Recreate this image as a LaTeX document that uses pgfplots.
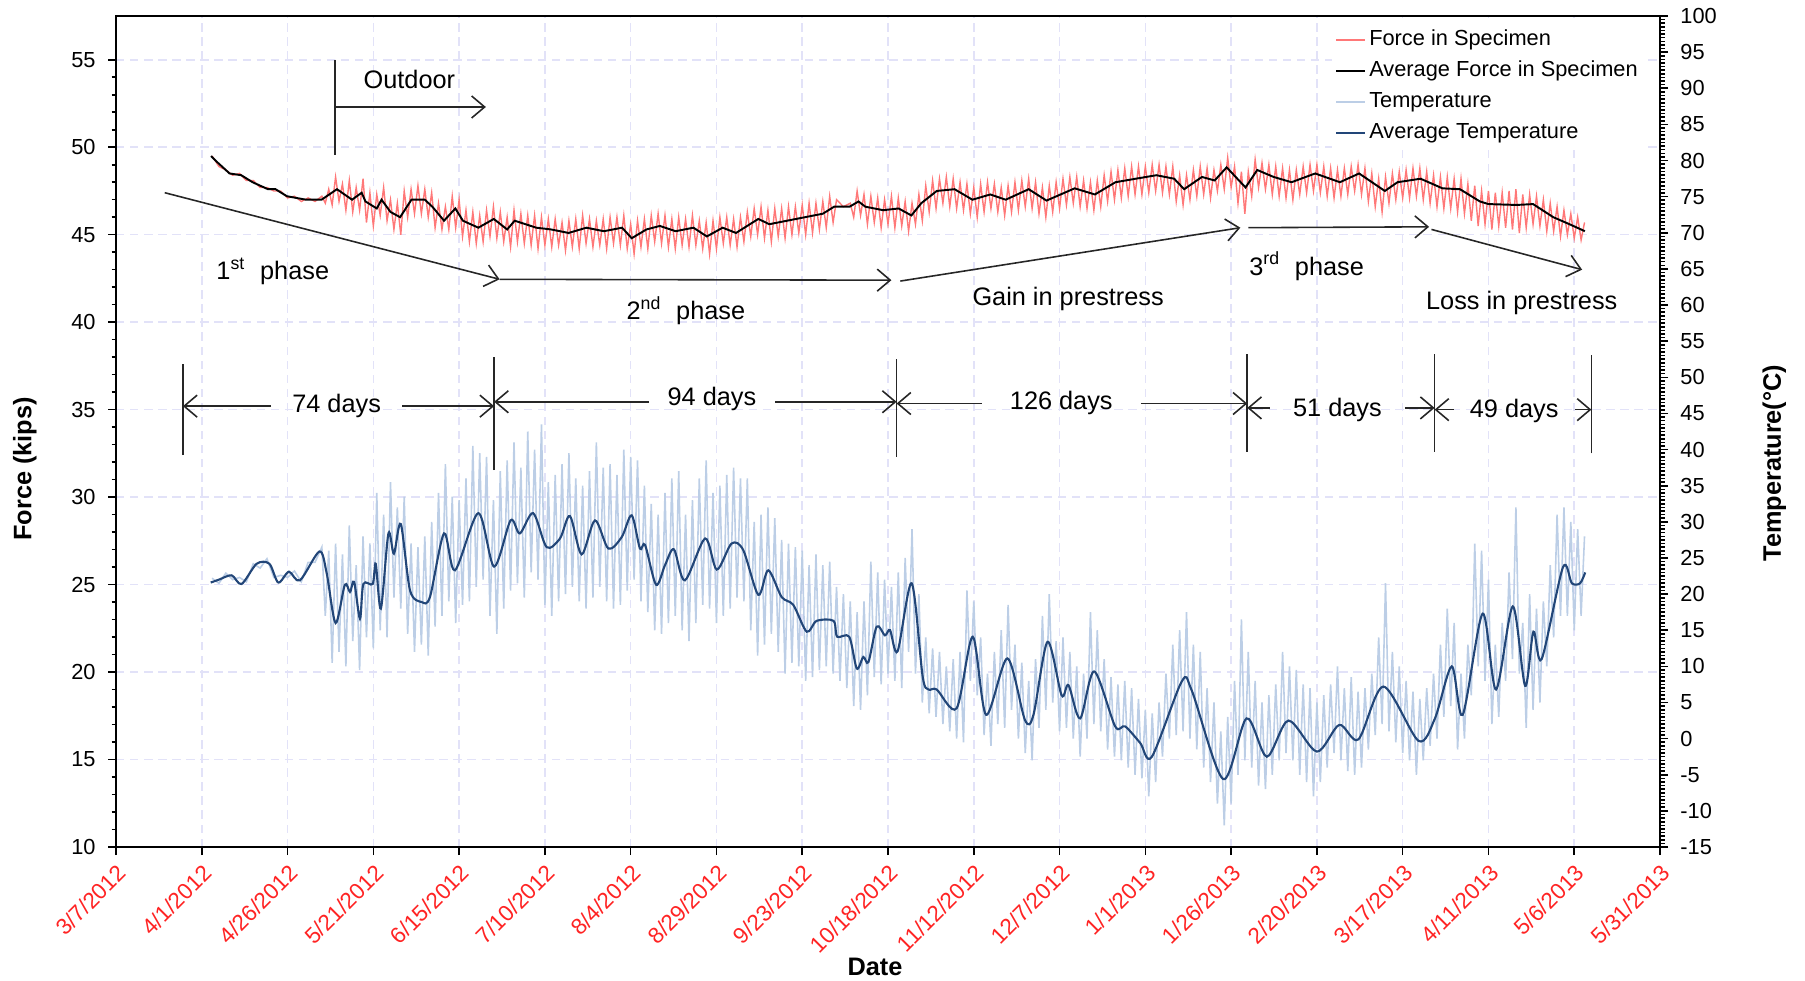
\documentclass[border=0pt]{standalone}
\usepackage{fontspec}
\setmainfont{Liberation Sans}
\usepackage{pgfplots}
\usepackage{pgfplotstable}
\pgfplotsset{compat=1.18}
\usetikzlibrary{arrows.meta}

\definecolor{forcered}{RGB}{255,120,120}
\definecolor{templight}{RGB}{188,206,230}
\definecolor{tempdark}{RGB}{34,70,120}
\definecolor{gridc}{RGB}{226,226,248}
\definecolor{ticklab}{RGB}{255,35,35}

\pgfplotstableread{
d F
28 49.5
30 48.9
32 48.7
34 48.4
36 48.5
38 48.1
40 48.1
42 47.7
44 47.7
46 47.5
48 47.5
50 47.1
52 47.2
54 46.9
56 47.1
58 46.9
60 47.2
61 46.8
62 47.6
63 46.7
64 48.3
65 46.9
66 47.9
67 46.4
68 48.1
69 46.3
70 47.7
71 46.4
72 48.2
73 45.7
74 47.4
75 45.5
76 47.3
77 46.1
78 47.7
79 45.8
80 47.0
81 45.3
82 46.8
83 45.0
84 47.5
85 46.0
86 47.6
87 46.2
88 47.8
89 46.2
90 47.6
91 46.0
92 47.4
93 45.4
94 46.8
95 45.3
96 46.6
97 45.3
98 47.2
99 45.4
100 47.0
101 44.9
102 46.4
103 44.6
104 46.3
105 44.5
106 46.1
107 44.6
108 46.4
109 44.9
110 46.6
111 44.8
112 46.3
113 44.6
114 46.0
115 44.3
116 46.4
117 44.6
118 46.2
119 44.5
120 46.1
121 44.4
122 46.1
123 44.2
124 46.0
125 44.4
126 45.9
127 44.3
128 45.9
129 44.4
130 45.7
131 44.1
132 45.8
133 44.3
134 45.9
135 44.2
136 46.1
137 44.5
138 45.9
139 44.3
140 45.8
141 44.4
142 45.9
143 44.2
144 46.0
145 44.5
146 46.0
147 44.4
148 46.1
149 44.2
150 45.6
151 43.9
152 45.8
153 44.3
154 45.9
155 44.2
156 46.1
157 44.6
158 46.2
159 44.5
160 46.1
161 44.3
162 45.9
163 44.2
164 46.0
165 44.4
166 45.9
167 44.3
168 46.1
169 44.4
170 45.8
171 44.2
172 45.7
173 43.9
174 45.8
175 44.2
176 46.0
177 44.5
178 46.0
179 44.4
180 45.9
181 44.3
182 46.0
183 44.6
184 46.3
185 44.9
186 46.5
187 45.0
188 46.6
189 44.8
190 46.4
191 44.6
192 46.5
193 44.9
194 46.5
195 44.8
196 46.6
197 45.0
198 46.6
199 45.1
200 46.7
201 45.0
202 46.8
203 45.1
204 46.8
205 45.3
206 46.9
207 45.4
208 47.2
209 45.7
210 47.0
212 46.6
214 46.8
215 46.0
216 47.5
217 46.1
218 47.3
219 45.6
220 47.2
221 45.7
222 47.1
223 45.4
224 47.0
225 45.6
226 47.2
227 45.4
228 47.1
229 45.5
230 46.9
231 45.2
232 46.8
233 45.6
234 47.3
235 45.8
236 47.8
237 46.3
238 48.1
239 46.5
240 48.2
241 46.8
242 48.3
243 46.6
244 48.2
245 46.5
246 48.0
247 46.4
248 47.9
249 46.2
250 47.7
251 46.0
252 47.9
253 46.3
254 48.0
255 46.5
256 47.9
257 46.3
258 47.7
259 46.1
260 47.8
261 46.3
262 48.0
263 46.4
264 48.1
265 46.6
266 48.2
267 46.5
268 48.0
269 46.2
270 47.7
271 46.0
272 47.8
273 46.3
274 48.0
275 46.5
276 48.2
277 46.7
278 48.3
279 46.8
280 48.3
281 46.6
282 48.1
283 46.5
284 48.0
285 46.4
286 48.1
287 46.6
288 48.4
289 46.9
290 48.6
291 47.0
292 48.7
293 47.1
294 48.8
295 47.2
296 48.9
297 47.3
298 48.9
299 47.3
300 48.9
301 47.4
302 49.0
303 47.5
304 49.0
305 47.4
306 48.9
307 47.3
308 48.9
309 46.9
310 48.4
311 46.7
312 48.4
313 47.0
314 48.7
315 47.2
316 48.9
317 47.3
318 48.8
319 47.1
320 48.7
321 47.5
322 49.0
323 47.6
324 49.4
325 47.7
326 48.9
327 46.8
328 48.6
329 46.2
330 48.6
331 47.2
332 49.3
333 47.7
334 49.1
335 47.6
336 49.0
337 47.3
338 48.9
339 47.2
340 48.8
341 47.1
342 48.7
343 47.0
344 48.7
345 47.3
346 48.9
347 47.4
348 49.0
349 47.5
350 49.0
351 47.4
352 48.9
353 47.2
354 48.8
355 47.1
356 48.7
357 47.2
358 48.8
359 47.3
360 48.9
361 47.5
362 49.0
363 47.3
364 48.8
365 46.9
366 48.5
367 46.6
368 48.2
369 46.3
370 48.3
371 46.8
372 48.5
373 47.0
374 48.6
375 47.1
376 48.7
377 47.1
378 48.8
379 47.2
380 48.8
381 47.0
382 48.6
383 46.8
384 48.4
385 46.6
386 48.3
387 46.5
388 48.3
389 46.5
390 48.2
391 46.3
392 48.2
393 46.2
394 47.9
395 45.8
396 47.8
397 45.5
398 47.5
399 45.6
400 47.5
401 45.3
402 47.4
403 45.5
404 47.4
405 45.4
406 47.5
407 45.3
408 47.6
409 45.1
410 47.3
411 45.4
412 47.3
413 45.6
414 47.2
415 45.5
416 47.0
417 45.2
418 46.8
419 45.2
420 46.6
421 44.9
422 46.4
423 45.0
424 46.2
425 44.8
426 46.0
427 44.7
428 45.7
}\ForceNoisy

\pgfplotstableread{
d F
27.7 49.5
29.2 49.2
33.1 48.5
36.5 48.4
39.8 48.0
44.3 47.6
46.5 47.6
49.8 47.2
55.4 47.0
59.9 47.0
64.4 47.6
68.8 47.0
71.6 47.4
72.7 46.9
76 46.5
77.4 47.0
80 46.3
82.8 46.0
86.1 47.0
90 47.0
92.2 46.6
95.6 45.8
98.9 46.5
101.1 45.8
105.6 45.4
110.1 45.9
114 45.3
116.2 45.8
122.5 45.4
126.8 45.3
131.9 45.1
137.1 45.4
142.2 45.2
147.5 45.4
150.3 44.8
154.6 45.3
158.5 45.5
163.1 45.2
168.3 45.4
172.2 44.9
176.8 45.4
180.7 45.1
187.2 45.9
190.4 45.6
198.2 45.9
206 46.2
209.3 46.6
213.8 46.6
216.4 46.9
218.4 46.6
223.6 46.4
228.1 46.5
231.8 46.1
234.7 46.8
239.2 47.5
244.4 47.6
249.6 47.0
254.8 47.3
259.3 47.0
266 47.6
271.2 46.95
279.4 47.65
285.3 47.3
291.3 48.0
297.2 48.2
303.2 48.4
308.4 48.2
311.3 47.6
316.5 48.3
320.2 48.1
323.7 48.85
329.2 47.7
332.6 48.7
337.4 48.3
342.6 48.0
349.5 48.5
356.7 48.0
362.3 48.5
369.8 47.5
373.5 48.0
380.2 48.2
386.6 47.65
391.7 47.6
397.5 46.9
400 46.75
408.2 46.7
413 46.75
418.9 46.0
423.6 45.6
428.1 45.2
}\ForceAvg

\pgfplotstableread{
d T
28 22.2
30 21.5
32 22.9
34 22.0
36 22.3
38 21.7
40 24.2
42 23.6
44 24.9
46 22.3
48 22.6
50 22.3
52 23.2
54 21.7
56 24.4
58 24.4
60 26.5
61 17.0
62 26.0
63 10.5
64 27.0
65 12.0
66 25.5
67 10.0
68 29.5
69 13.5
70 24.0
71 9.5
72 28.0
73 14.0
74 27.0
75 12.5
76 34.0
77 15.0
78 31.0
79 14.0
80 35.5
81 19.5
82 32.0
83 18.0
84 33.5
85 14.5
86 27.0
87 12.0
88 26.5
89 13.0
90 28.0
91 11.5
92 30.0
93 15.5
94 34.0
95 17.0
96 38.0
97 19.0
98 33.5
99 16.0
100 33.0
101 18.5
102 36.0
103 19.0
104 40.5
105 21.0
106 39.5
107 22.0
108 39.0
109 17.0
110 33.0
111 14.5
112 37.0
113 18.0
114 38.5
115 20.5
116 41.0
117 21.5
118 37.5
119 19.5
120 42.5
121 23.0
122 40.0
123 22.0
124 43.5
125 18.5
126 35.5
127 17.0
128 36.5
129 19.0
130 38.0
131 20.0
132 39.5
133 21.0
134 36.0
135 19.0
136 35.0
137 18.0
138 37.0
139 19.5
140 41.0
141 21.0
142 37.5
143 19.0
144 38.0
145 18.0
146 36.5
147 18.5
148 40.0
149 20.5
150 39.0
151 22.0
152 38.5
153 19.0
154 35.0
155 17.5
156 32.5
157 15.0
158 31.0
159 14.5
160 34.0
161 16.0
162 36.0
163 17.0
164 37.0
165 15.0
166 31.0
167 13.5
168 33.0
169 16.0
170 36.0
171 18.5
172 38.5
173 18.0
174 34.0
175 16.0
176 35.0
177 17.0
178 36.5
179 18.0
180 37.5
181 19.5
182 36.0
183 19.0
184 36.0
185 15.0
186 30.0
187 11.5
188 31.0
189 13.0
190 32.0
191 14.5
192 30.5
193 12.0
194 27.5
195 9.0
196 27.0
197 10.5
198 26.5
199 10.0
200 26.0
201 8.0
202 24.0
203 8.5
204 25.5
205 9.5
206 24.0
207 10.0
208 24.5
209 9.0
210 21.0
211 8.0
212 20.0
213 7.0
214 19.0
215 4.5
216 17.5
217 4.0
218 19.0
219 6.0
220 24.5
221 8.5
222 23.0
223 7.5
224 22.0
225 9.0
226 21.0
227 8.0
228 23.0
229 7.0
230 25.0
231 12.0
232 29.0
233 9.0
234 20.0
235 5.0
236 14.0
237 3.5
238 12.5
239 3.0
240 12.0
241 2.0
242 10.0
243 1.0
244 11.0
245 0.0
246 12.0
247 -0.5
248 20.5
249 8.0
250 19.0
251 6.0
252 14.0
253 0.5
254 9.0
255 -1.0
256 12.0
257 2.0
258 15.0
259 1.5
260 18.5
261 4.0
262 13.0
263 0.0
264 10.5
265 -2.0
266 8.0
267 -3.0
268 11.0
269 1.5
270 17.0
271 4.0
272 20.0
273 5.0
274 13.5
275 1.0
276 14.0
277 1.5
278 12.0
279 0.0
280 10.0
281 -2.5
282 9.0
283 0.0
284 17.5
285 2.0
286 15.0
287 1.0
288 11.0
289 -1.5
290 8.5
291 -2.5
292 7.5
293 -3.0
294 8.0
295 -4.0
296 7.0
297 -5.0
298 5.5
299 -5.5
300 4.0
301 -8.0
302 3.5
303 -6.0
304 5.0
305 -2.5
306 9.0
307 0.0
308 13.0
309 0.5
310 15.0
311 1.0
312 17.5
313 0.0
314 13.0
315 -1.5
316 12.0
317 -4.0
318 7.0
319 -6.0
320 5.0
321 -9.0
322 1.0
323 -12.0
324 3.0
325 -9.0
326 8.0
327 -5.0
328 16.5
329 -3.0
330 12.0
331 -4.0
332 8.0
333 -6.5
334 5.0
335 -7.0
336 6.0
337 -5.0
338 7.5
339 -3.0
340 12.0
341 -2.0
342 10.0
343 -3.0
344 9.5
345 -5.0
346 7.5
347 -6.0
348 7.0
349 -8.0
350 5.0
351 -6.0
352 6.0
353 -4.0
354 7.5
355 -2.0
356 10.0
357 -3.0
358 7.0
359 -4.5
360 8.5
361 -5.0
362 6.5
363 -4.0
364 7.0
365 -1.5
366 9.0
367 0.5
368 14.0
369 2.0
370 21.5
371 1.0
372 12.0
373 -0.5
374 10.0
375 -2.0
376 8.0
377 -3.0
378 6.5
379 -5.0
380 5.5
381 -3.0
382 7.0
383 -1.0
384 9.0
385 0.0
386 13.0
387 3.0
388 18.0
389 4.5
390 16.0
391 -1.5
392 9.0
393 0.0
394 13.0
395 6.0
396 27.0
397 10.0
398 26.0
399 8.0
400 22.0
401 2.0
402 13.0
403 3.0
404 16.0
405 8.0
406 23.0
407 11.0
408 32.0
409 9.0
410 16.0
411 1.5
412 20.0
413 4.0
414 18.0
415 5.0
416 19.0
417 10.0
418 24.0
419 14.0
420 31.0
421 17.0
422 32.0
423 17.0
424 30.0
425 15.0
426 29.0
427 17.0
428 28.0
}\TempNoisy

\pgfplotstableread{
d T
27.6 21.6
30 22.0
33.7 22.6
36.6 21.4
41 24.2
44.7 24.2
47.3 21.6
50.4 23.1
53.6 21.9
59.3 25.9
61.4 22.9
64 16.0
66.7 21.3
68.2 20.3
69.4 21.7
71.1 16.6
72.1 21.4
74.8 21.4
75.7 24.2
77.2 18.0
79.4 28.4
81 25.6
83 29.7
85.7 20.5
89.1 18.9
91.5 19.6
95.6 28.4
98.8 23.3
105.6 31.2
110.2 23.8
115 30.2
117.7 28.4
121.6 31.2
125.5 26.5
129.4 27.7
132.3 30.8
135.7 25.5
139.6 30.2
143.5 26.3
147.4 27.9
150.3 30.9
152.7 26.3
154.2 26.8
157.4 21.3
160 24.0
162.6 26.2
165.8 21.9
171.7 27.7
175.1 23.4
179.4 27.0
182.8 26.1
187.2 19.9
190.1 23.3
194 19.6
197.4 18.5
201.3 14.8
204.2 16.3
209.1 16.3
210.2 14.1
213.7 14.1
215.9 9.7
217.8 11.3
219.3 10.6
221.7 15.5
224.1 14.3
225.6 15.0
227.8 12.1
231.9 21.5
235.1 8.6
236.8 6.8
239.2 6.8
245 4.2
249.7 14.1
253.6 3.3
259.8 11.1
264.9 2.6
267.4 3.3
271.5 13.4
275.6 6.0
277.6 7.4
281 2.8
285.1 9.3
291.2 1.7
294.1 1.7
298.5 -0.6
301.9 -2.5
310.6 7.9
313.5 6.7
322.7 -5.6
329.5 2.8
335.4 -2.5
341.7 2.5
350 -1.8
356.5 1.9
362.1 -0.1
369.4 7.2
379.6 -0.3
384.4 2.8
389.3 10.0
392.5 3.3
398.3 17.3
402.2 6.8
407.1 18.3
410.7 7.3
413.1 14.8
415.5 11.0
421.7 23.7
424.3 21.5
426.7 21.5
428.2 23.0
}\TempAvg

\tikzset{ann/.style={black!85, line width=0.45pt},
  annar/.style={ann, -{Straight Barb[length=1.3mm,width=2.2mm]}},
  anntext/.style={font=\fontsize{7.2}{8.6}\selectfont, inner sep=0pt}}

\begin{document}
\begin{tikzpicture}
\begin{axis}[
  width=15.44cm, height=8.31cm, scale only axis,
  xmin=0, xmax=450, ymin=10, ymax=57.5,
  xtick={0,25,...,450},
  xticklabels={3/7/2012,4/1/2012,4/26/2012,5/21/2012,6/15/2012,7/10/2012,8/4/2012,8/29/2012,9/23/2012,10/18/2012,11/12/2012,12/7/2012,1/1/2013,1/26/2013,2/20/2013,3/17/2013,4/11/2013,5/6/2013,5/31/2013},
  xticklabel style={rotate=45, anchor=north east, text=ticklab, font=\fontsize{6.4}{7}\selectfont, inner sep=1.5pt},
  ytick={10,15,...,55}, minor y tick num=4,
  yticklabel style={font=\fontsize{6.2}{7}\selectfont},
  /pgf/number format/assume math mode=true,
  tick align=outside, xtick pos=left, ytick pos=left,
  major tick length=0.8mm, minor tick length=0.45mm,
  tick style={black, line width=0.45pt},
  axis line style={line width=0.6pt},
  grid=major,
  major grid style={gridc, dash pattern=on 2.4pt off 1.6pt, line width=0.45pt},
  xlabel={Date}, ylabel={Force (kips)},
  xlabel style={at={(axis description cs:0.4916,-0.144)}, anchor=center, font=\bfseries\fontsize{7.2}{8}\selectfont},
  ylabel style={at={(axis description cs:-0.059,0.455)}, anchor=center, font=\bfseries\fontsize{7.2}{8}\selectfont},
]
\addplot[forcered, line width=0.4pt] table[x=d,y=F] {\ForceNoisy};
\addplot[black, line width=0.55pt] table[x=d,y=F] {\ForceAvg};

% Outdoor
\draw[ann] (axis cs:63.8,55) -- (axis cs:63.8,49.55);
\draw[annar] (axis cs:63.8,52.3) -- (axis cs:107.8,52.3);
\node[anntext] at (axis cs:85.5,53.9) {Outdoor};
% phases
\draw[annar] (axis cs:14.2,47.4) -- (axis cs:111.8,42.45);
\draw[annar] (axis cs:111.8,42.45) -- (axis cs:226,42.4);
\draw[annar] (axis cs:228.6,42.35) -- (axis cs:327.7,45.4);
\draw[annar] (axis cs:330,45.4) -- (axis cs:382.7,45.45);
\draw[annar] (axis cs:383.4,45.3) -- (axis cs:427.3,43.0);
\node[anntext] at (axis cs:45.7,42.9) {1\textsuperscript{st}\ \ phase};
\node[anntext] at (axis cs:166.1,40.65) {2\textsuperscript{nd}\ \ phase};
\node[anntext] at (axis cs:277.5,41.3) {Gain in prestress};
\node[anntext] at (axis cs:347,43.2) {3\textsuperscript{rd}\ \ phase};
\node[anntext] at (axis cs:409.7,41.1) {Loss in prestress};
% day markers
\draw[ann] (axis cs:19.5,32.4) -- (axis cs:19.5,37.6);
\draw[ann] (axis cs:110.2,31.55) -- (axis cs:110.2,38.0);
\draw[ann] (axis cs:227.5,32.3) -- (axis cs:227.5,37.9);
\draw[ann] (axis cs:329.7,32.6) -- (axis cs:329.7,38.2);
\draw[ann] (axis cs:384.3,32.6) -- (axis cs:384.3,38.2);
\draw[ann] (axis cs:430,32.5) -- (axis cs:430,38.1);
\draw[annar] (axis cs:45.2,35.2) -- (axis cs:19.5,35.2);
\draw[annar] (axis cs:83.4,35.2) -- (axis cs:110.2,35.2);
\node[anntext] at (axis cs:64.3,35.2) {74 days};
\draw[annar] (axis cs:155.4,35.45) -- (axis cs:110.2,35.45);
\draw[annar] (axis cs:192.1,35.45) -- (axis cs:227.5,35.45);
\node[anntext] at (axis cs:173.7,35.6) {94 days};
\draw[annar] (axis cs:252.3,35.35) -- (axis cs:227.5,35.35);
\draw[annar] (axis cs:298.7,35.35) -- (axis cs:329.7,35.35);
\node[anntext] at (axis cs:275.5,35.4) {126 days};
\draw[annar] (axis cs:336.2,35.1) -- (axis cs:329.7,35.1);
\draw[annar] (axis cs:375.8,35.1) -- (axis cs:384.3,35.1);
\node[anntext] at (axis cs:356,35.0) {51 days};
\draw[annar] (axis cs:389.9,35.0) -- (axis cs:384.3,35.0);
\draw[annar] (axis cs:425.2,35.0) -- (axis cs:430,35.0);
\node[anntext] at (axis cs:407.5,34.9) {49 days};
\end{axis}

\begin{axis}[
  width=15.44cm, height=8.31cm, scale only axis,
  xmin=0, xmax=450, ymin=-15, ymax=100,
  axis x line=none, axis y line*=right,
  ytick={-15,-10,...,100}, minor y tick num=9,
  yticklabel style={font=\fontsize{6.2}{7}\selectfont},
  /pgf/number format/assume math mode=true,
  tick align=outside,
  major tick length=0.8mm, minor tick length=0.45mm,
  tick style={black, line width=0.45pt},
  axis line style={line width=0.6pt},
  ylabel={Temperature(°C)},
  ylabel style={at={(axis description cs:1.074,0.462)}, anchor=center, font=\bfseries\fontsize{7.2}{8}\selectfont},
  legend style={at={(axis description cs:0.787,0.992)}, anchor=north west, draw=none, fill=white,
    font=\fontsize{6.2}{7}\selectfont, row sep=1.2pt, inner sep=1pt,
    nodes={inner sep=0.8pt, text height=4.6pt, text depth=1.4pt}},
  legend cell align=left,
  legend image code/.code={\draw[#1] (0cm,0cm) -- (0.29cm,0cm);},
]
\addlegendimage{forcered, line width=0.5pt}\addlegendentry{Force in Specimen}
\addlegendimage{black, line width=0.55pt}\addlegendentry{Average Force in Specimen}
\addplot[templight, line width=0.45pt] table[x=d,y=T] {\TempNoisy};
\addlegendentry{Temperature}
\addplot[tempdark, line width=0.6pt, smooth, tension=0.5] table[x=d,y=T] {\TempAvg};
\addlegendentry{Average Temperature}
\end{axis}
\pgfresetboundingbox
\path[use as bounding box] (-1.16cm,-1.33cm) rectangle (16.89cm,8.47cm);
\end{tikzpicture}
\end{document}
